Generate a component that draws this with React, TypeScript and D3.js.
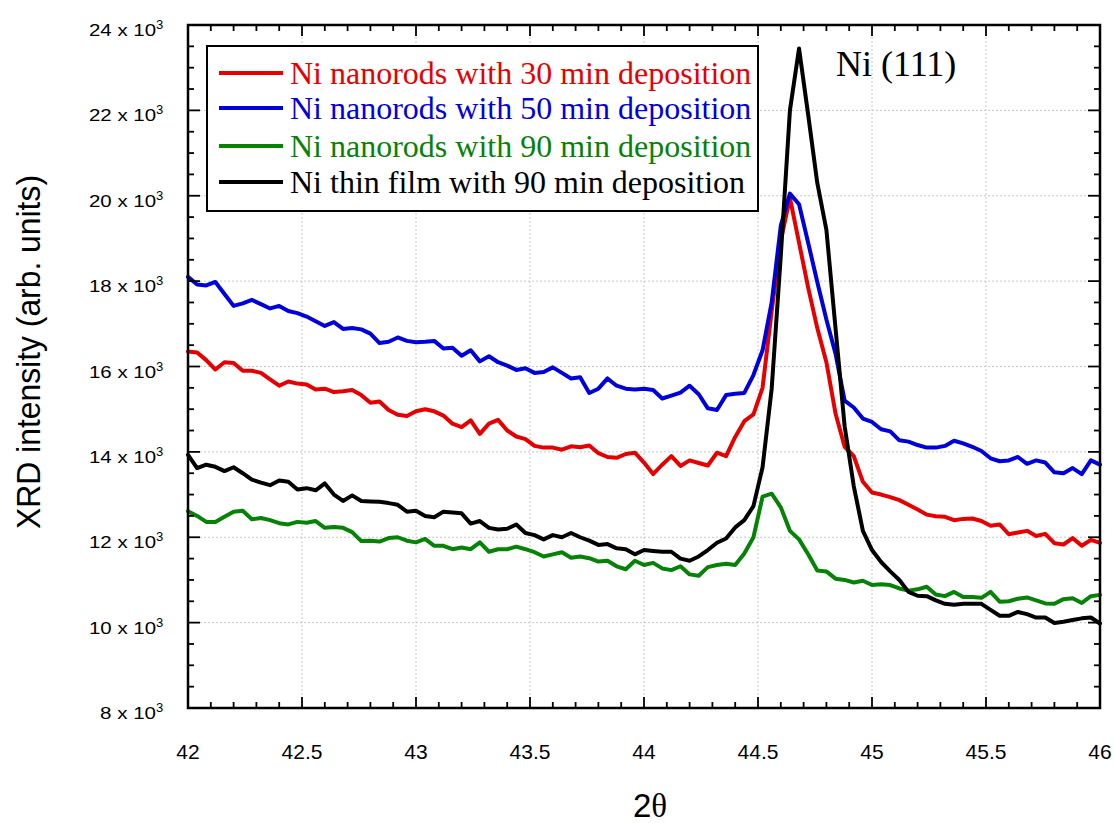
import React from "react";
import * as d3 from "d3";

// ---- data ----
const SCAN_START = 42;
const SCAN_STEP = 0.04;
const SCAN_POINTS = 101;
const twoTheta: number[] = d3.range(SCAN_POINTS).map((i) => +(SCAN_START + i * SCAN_STEP).toFixed(2));

// intensities in units of 10^3
const nanorods30: number[] = [
  16.35, 16.33, 16.15, 15.93, 16.1, 16.08, 15.9, 15.9, 15.85, 15.7, 15.55, 15.65, 15.6, 15.58, 15.46, 15.48, 15.4, 15.42, 15.45, 15.33, 15.15, 15.18, 14.98, 14.87, 14.84, 14.95,
  15.0, 14.95, 14.85, 14.66, 14.58, 14.74, 14.42, 14.66, 14.75, 14.5, 14.36, 14.3, 14.14, 14.1, 14.1, 14.05, 14.13, 14.11, 14.15, 13.97, 13.88, 13.86, 13.95, 13.98, 13.75,
  13.48, 13.7, 13.9, 13.67, 13.8, 13.74, 13.68, 13.98, 13.9, 14.35, 14.72, 14.88, 15.5, 17.3, 18.95, 19.95, 18.9, 17.85, 16.9, 16.1, 14.9, 14.12, 13.9, 13.3, 13.05,
  13.0, 12.94, 12.87, 12.76, 12.65, 12.53, 12.49, 12.48, 12.4, 12.43, 12.44, 12.38, 12.27, 12.3, 12.07, 12.11, 12.15, 12.03, 12.08, 11.86, 11.83, 11.98, 11.8, 11.94, 11.87,
];
const nanorods50: number[] = [
  18.1, 17.92, 17.9, 17.98, 17.7, 17.42, 17.48, 17.56, 17.46, 17.36, 17.42, 17.3, 17.25, 17.17, 17.06, 16.95, 17.04, 16.88, 16.9, 16.87, 16.77, 16.55, 16.58, 16.68, 16.6, 16.57,
  16.58, 16.6, 16.42, 16.44, 16.25, 16.38, 16.12, 16.24, 16.1, 16.02, 15.92, 15.96, 15.85, 15.87, 15.98, 15.85, 15.72, 15.75, 15.38, 15.48, 15.72, 15.55, 15.48, 15.46, 15.48,
  15.45, 15.25, 15.32, 15.39, 15.55, 15.35, 15.02, 14.98, 15.33, 15.36, 15.38, 15.8, 16.38, 17.5, 19.3, 20.05, 19.8, 18.9, 17.98, 17.1, 16.3, 15.2, 15.04, 14.78, 14.7,
  14.53, 14.48, 14.27, 14.24, 14.16, 14.1, 14.1, 14.14, 14.26, 14.2, 14.12, 14.02, 13.85, 13.78, 13.8, 13.88, 13.72, 13.8, 13.75, 13.52, 13.5, 13.62, 13.48, 13.8, 13.7,
];
const nanorods90: number[] = [
  12.61, 12.5, 12.36, 12.36, 12.48, 12.6, 12.62, 12.42, 12.45, 12.4, 12.33, 12.3, 12.36, 12.34, 12.38, 12.22, 12.24, 12.22, 12.12, 11.91, 11.92, 11.9, 11.98, 12.0, 11.92, 11.88,
  11.96, 11.8, 11.8, 11.72, 11.76, 11.72, 11.88, 11.66, 11.72, 11.72, 11.78, 11.72, 11.65, 11.55, 11.6, 11.65, 11.52, 11.55, 11.51, 11.43, 11.45, 11.32, 11.25, 11.45, 11.35,
  11.4, 11.27, 11.23, 11.32, 11.13, 11.1, 11.3, 11.35, 11.38, 11.35, 11.62, 12.0, 12.95, 13.02, 12.7, 12.15, 11.95, 11.6, 11.22, 11.2, 11.03, 11.0, 10.94, 10.98, 10.88,
  10.9, 10.88, 10.8, 10.75, 10.78, 10.84, 10.66, 10.62, 10.72, 10.6, 10.6, 10.58, 10.72, 10.49, 10.5, 10.56, 10.59, 10.52, 10.45, 10.44, 10.55, 10.57, 10.46, 10.62, 10.65,
];
const thinFilm90: number[] = [
  13.93, 13.62, 13.7, 13.65, 13.55, 13.64, 13.5, 13.35, 13.28, 13.22, 13.33, 13.3, 13.12, 13.15, 13.1, 13.26, 13.0, 12.85, 12.98, 12.85, 12.84, 12.83, 12.8, 12.76, 12.6, 12.62,
  12.5, 12.47, 12.6, 12.58, 12.56, 12.32, 12.38, 12.22, 12.18, 12.2, 12.3, 12.1, 12.05, 11.95, 12.05, 12.0, 12.1, 12.0, 11.92, 11.82, 11.84, 11.74, 11.72, 11.6, 11.7,
  11.68, 11.66, 11.66, 11.5, 11.45, 11.55, 11.7, 11.87, 11.97, 12.23, 12.4, 12.73, 13.64, 15.48, 18.6, 22.0, 23.45, 21.9, 20.3, 19.2, 16.9, 14.6, 13.2, 12.15, 11.7,
  11.42, 11.2, 11.0, 10.72, 10.63, 10.62, 10.52, 10.44, 10.42, 10.44, 10.44, 10.44, 10.3, 10.16, 10.16, 10.25, 10.2, 10.12, 10.12, 9.99, 10.02, 10.06, 10.1, 10.12, 9.98,
];

const seriesNames: string[] = [
  "Ni nanorods with 30 min deposition",
  "Ni nanorods with 50 min deposition",
  "Ni nanorods with 90 min deposition",
  "Ni thin film with 90 min deposition",
];
const seriesColors: string[] = ["#e60000", "#0000dc", "#068206", "#000000"];
const seriesData: number[][] = [nanorods30, nanorods50, nanorods90, thinFilm90];

const xMajorTicks: number[] = [42, 42.5, 43, 43.5, 44, 44.5, 45, 45.5, 46];
const xTickLabels: string[] = ["42", "42.5", "43", "43.5", "44", "44.5", "45", "45.5", "46"];
const yMajorTicks: number[] = [8, 10, 12, 14, 16, 18, 20, 22, 24];
const yTickLabels: string[] = ["8", "10", "12", "14", "16", "18", "20", "22", "24"];

const peakLabel = "Ni (111)";
const xTitleMain = "2";
const xTitleGreek = "θ";
const yTitle = "XRD intensity (arb. units)";

// ---- layout ----
const W = 1115;
const H = 823;
const L = 188;
const R = 1100;
const T = 25;
const B = 708;

const SANS = "Arial, 'Liberation Sans', sans-serif";
const SERIF = "'Times New Roman', 'Liberation Serif', serif";

export default function App() {
  const x = d3.scaleLinear().domain([42, 46]).range([L, R]);
  const y = d3.scaleLinear().domain([8, 24]).range([B, T]);

  const line = d3
    .line<number>()
    .x((_, i) => x(twoTheta[i]))
    .y((d) => y(d));

  const xMinor = d3.range(42, 46.0001, 0.1).map((v) => +v.toFixed(2)).filter((v) => !xMajorTicks.some((m) => Math.abs(m - v) < 1e-6));
  const yMinor = d3.range(8, 24.0001, 0.5).filter((v) => !yMajorTicks.some((m) => Math.abs(m - v) < 1e-6));

  const drawOrder = [0, 1, 2, 3];

  return (
    <svg width={W} height={H} style={{ position: "absolute", left: 0, top: 0, background: "#fff" }}>
      <rect x={0} y={0} width={W} height={H} fill="#fff" />
      {/* grid */}
      <g stroke="#c8c8c8" strokeWidth={1} strokeDasharray="2,2">
        {xMajorTicks.slice(1, -1).map((t) => (
          <line key={"gx" + t} x1={x(t)} x2={x(t)} y1={T} y2={B} />
        ))}
        {yMajorTicks.slice(1, -1).map((t) => (
          <line key={"gy" + t} x1={L} x2={R} y1={y(t)} y2={y(t)} />
        ))}
      </g>

      {/* data */}
      <g fill="none" strokeWidth={4} strokeLinejoin="round" strokeLinecap="round">
        {drawOrder.map((k) => (
          <path key={"s" + k} d={line(seriesData[k]) || ""} stroke={seriesColors[k]} />
        ))}
      </g>

      {/* ticks */}
      <g stroke="#000" strokeWidth={1.8}>
        {xMajorTicks.map((t) => (
          <g key={"xt" + t}>
            <line x1={x(t)} x2={x(t)} y1={B} y2={B - 11} />
            <line x1={x(t)} x2={x(t)} y1={T} y2={T + 11} />
          </g>
        ))}
        {xMinor.map((t) => (
          <g key={"xm" + t}>
            <line x1={x(t)} x2={x(t)} y1={B} y2={B - 6} />
            <line x1={x(t)} x2={x(t)} y1={T} y2={T + 6} />
          </g>
        ))}
        {yMajorTicks.map((t) => (
          <g key={"yt" + t}>
            <line x1={L} x2={L + 12} y1={y(t)} y2={y(t)} />
            <line x1={R} x2={R - 12} y1={y(t)} y2={y(t)} />
          </g>
        ))}
        {yMinor.map((t) => (
          <g key={"ym" + t}>
            <line x1={L} x2={L + 6} y1={y(t)} y2={y(t)} />
            <line x1={R} x2={R - 6} y1={y(t)} y2={y(t)} />
          </g>
        ))}
      </g>

      {/* frame */}
      <rect x={L} y={T} width={R - L} height={B - T} fill="none" stroke="#000" strokeWidth={2.5} />

      {/* x tick labels */}
      <g fontFamily={SANS} fontSize={21} fill="#000" textAnchor="middle">
        {xMajorTicks.map((t, i) => (
          <text key={"xl" + t} x={x(t)} y={759}>
            {xTickLabels[i]}
          </text>
        ))}
      </g>

      {/* y tick labels */}
      <g fontFamily={SANS} fill="#000">
        {yMajorTicks.map((t, i) => {
          const label = yTickLabels[i] + " x 10";
          const len = yTickLabels[i].length === 1 ? 56 : 67;
          return (
            <g key={"yl" + t}>
              <text x={156 - len} y={y(t) + 11} fontSize={16} textLength={len} lengthAdjust="spacingAndGlyphs">
                {label}
              </text>
              <text x={156} y={y(t) + 4} fontSize={13} textAnchor="start">
                3
              </text>
            </g>
          );
        })}
      </g>

      {/* axis titles */}
      <text x={650} y={817} textAnchor="middle" fontSize={33} fill="#000">
        <tspan fontFamily={SANS}>{xTitleMain}</tspan>
        <tspan fontFamily={SERIF}>{xTitleGreek}</tspan>
      </text>
      <text
        transform={`translate(40, 352) rotate(-90)`}
        x={-177}
        y={0}
        fontFamily={SANS}
        fontSize={34}
        fill="#000"
        textLength={354}
        lengthAdjust="spacingAndGlyphs"
      >
        {yTitle}
      </text>

      {/* peak label */}
      <text x={836} y={76} fontFamily={SERIF} fontSize={36} fill="#000">
        {peakLabel}
      </text>

      {/* legend */}
      <g>
        <rect x={207} y={46} width={551} height={165} fill="#fff" stroke="#000" strokeWidth={2} />
        {seriesNames.map((name, i) => {
          const rowY = [73, 108, 146, 182][i];
          return (
            <g key={"lg" + i}>
              <line x1={219} x2={283} y1={rowY} y2={rowY} stroke={seriesColors[i]} strokeWidth={4} />
              <text x={290} y={rowY + 11} fontFamily={SERIF} fontSize={32} fill={seriesColors[i]}>
                {name}
              </text>
            </g>
          );
        })}
      </g>
    </svg>
  );
}
